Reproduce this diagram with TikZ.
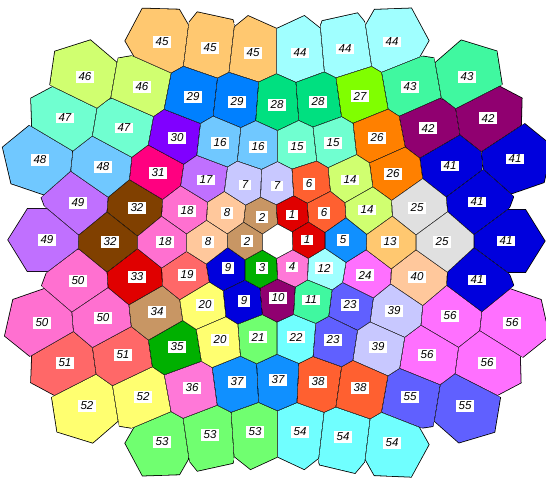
\documentclass[tikz,border=0pt]{standalone}
\usepackage{fontspec}
\setsansfont{Liberation Sans}
\usepackage{tikz}

% colours repeat every 32 cells
\definecolor{c0}{HTML}{FFFFFF}
\definecolor{c1}{HTML}{E00000}
\definecolor{c2}{HTML}{C89664}
\definecolor{c3}{HTML}{00B000}
\definecolor{c4}{HTML}{FF78D8}
\definecolor{c5}{HTML}{1090FF}
\definecolor{c6}{HTML}{FF6030}
\definecolor{c7}{HTML}{C8C8FF}
\definecolor{c8}{HTML}{FFC89C}
\definecolor{c9}{HTML}{0000DD}
\definecolor{c10}{HTML}{900070}
\definecolor{c11}{HTML}{40F8A0}
\definecolor{c12}{HTML}{A0FFFF}
\definecolor{c13}{HTML}{FFC870}
\definecolor{c14}{HTML}{D0FF70}
\definecolor{c15}{HTML}{70FFD0}
\definecolor{c16}{HTML}{70C8FF}
\definecolor{c17}{HTML}{C070FF}
\definecolor{c18}{HTML}{FF70D0}
\definecolor{c19}{HTML}{FF6868}
\definecolor{c20}{HTML}{FFFF70}
\definecolor{c21}{HTML}{70FF70}
\definecolor{c22}{HTML}{70FFFF}
\definecolor{c23}{HTML}{6060FF}
\definecolor{c24}{HTML}{FF70FF}
\definecolor{c25}{HTML}{E0E0E0}
\definecolor{c26}{HTML}{FF8000}
\definecolor{c27}{HTML}{80FF00}
\definecolor{c28}{HTML}{00E080}
\definecolor{c29}{HTML}{0080FF}
\definecolor{c30}{HTML}{8000FF}
\definecolor{c31}{HTML}{FF0080}
\definecolor{c32}{HTML}{804000}

% x/y/number of every cell
\def\cells{450/316/56, 512/323/56, 427/355/56, 487/363/56,
  410/397/55, 465/406/55,
  300/432/54, 343/437/54, 392/443/54,
  162/442/53, 210/435/53, 255/432/53,
  87/406/52, 143/397/52,
  65/363/51, 123/355/51,
  78/281/50, 103/318/50, 42/323/50,
  78/203/49, 47/240/49,
  40/160/48, 103/167/48,
  65/118/47, 124/128/47,
  85/77/46, 142/87/46,
  162/42/45, 210/48/45, 253/53/45,
  300/53/44, 345/49/44, 392/42/44,
  410/87/43, 467/77/43,
  428/128/42, 488/118/42,
  450/166/41, 515/159/41, 477/202/41, 506/241/41, 477/280/41,
  417/277/40,
  394/311/39, 378/347/39,
  318/382/38, 360/388/38,
  237/382/37, 278/380/37,
  192/388/36, 177/347/35, 157/312/34, 137/277/33,
  137/208/32, 110/242/32,
  158/173/31, 177/138/30,
  193/97/29, 237/102/29,
  277/105/28, 318/102/28,
  360/96/27,
  377/138/26, 393/174/26,
  417/208/25, 442/242/25,
  365/275/24,
  350/305/23, 333/340/23,
  296/337/22, 258/337/21,
  205/305/20, 220/340/20,
  187/275/19,
  187/211/18, 165/242/18,
  206/180/17,
  220/143/16, 258/147/16,
  297/147/15, 333/143/15,
  350/180/14, 367/210/14,
  390/242/13, 324/268/12, 311/300/11, 278/298/10,
  228/268/9, 244/301/9,
  227/213/8, 208/242/8,
  245/185/7, 277/186/7,
  309/184/6, 324/213/6,
  343/240/5, 292/267/4, 262/268/3,
  262/217/2, 247/241/2,
  292/215/1, 307/240/1, 278/241/0}

\begin{document}
\begin{tikzpicture}[x=1pt,y=-1pt,
  lbl/.style={fill=white, inner xsep=3pt, inner ysep=1.5pt, font=\sffamily\itshape\fontsize{11.5}{12}\selectfont}
]
\useasboundingbox (0,0) rectangle (546,480);

% cells: hexagon cut by the bisectors to the neighbours
\foreach \x/\y/\n in \cells {
  \gdef\clips{}
  \foreach \p/\q/\m in \cells {
    \pgfmathsetmacro\dd{veclen(\p-\x,\q-\y)}
    \ifdim\dd pt<100pt \ifdim\dd pt>0.5pt
      \pgfmathsetmacro\mx{(\p+\x)/2}
      \pgfmathsetmacro\my{(\q+\y)/2}
      \pgfmathsetmacro\ang{atan2(\q-\y,\p-\x)}
      \xdef\clips{\unexpanded\expandafter{\clips}\noexpand\clip[shift={(\mx,\my)},rotate=-\ang] (-\noexpand\dl,-120) rectangle (-150,120);}
    \fi\fi
  }
  \pgfmathsetmacro\dc{veclen(\x-278,\y-241)}
  \pgfmathsetmacro\tc{atan2(\y-241,\x-278)}
  \pgfmathsetmacro\sa{\n>40 ? 1.1 : 1.4}
  \pgfmathsetmacro\sb{\n>40 ? 1.25 : 1.4}
  \pgfmathsetmacro\ha{\sa*(15+24*(1-exp(-\dc/110)))}
  \pgfmathsetmacro\hb{\sb*(15+12*(1-exp(-\dc/110)))}
  \pgfmathsetmacro\ia{\ha-0.9}
  \pgfmathsetmacro\ib{\hb-0.8}
  \pgfmathtruncatemacro\ci{\n==0 ? 0 : mod(\n-1,32)+1}
  \begin{scope}
    \def\dl{0}\clips
    \fill[black, shift={(\x,\y)}, rotate=-\tc]
      (\ha,0) -- (\ha/2,\hb) -- (-\ha/2,\hb) -- (-\ha,0) -- (-\ha/2,-\hb) -- (\ha/2,-\hb) -- cycle;
  \end{scope}
  \begin{scope}
    \def\dl{0.4}\clips
    \fill[c\ci, shift={(\x,\y)}, rotate=-\tc]
      (\ia,0) -- (\ia/2,\ib) -- (-\ia/2,\ib) -- (-\ia,0) -- (-\ia/2,-\ib) -- (\ia/2,-\ib) -- cycle;
  \end{scope}
}

% numbers
\foreach \x/\y/\n [count=\i] in \cells {
  \ifnum\n>0 \node[lbl] (l\i) at (\x,\y) {\n}; \fi
}
\end{tikzpicture}
\end{document}
